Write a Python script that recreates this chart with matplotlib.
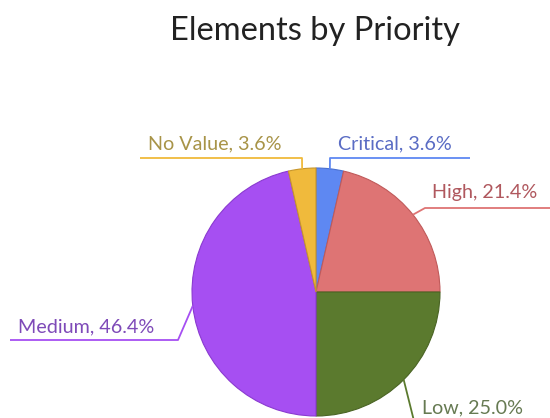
import numpy as np
import matplotlib.pyplot as plt

categories = ['Critical', 'High', 'Low', 'Medium', 'No Value']
counts = [1, 6, 7, 13, 1]
colors = ['#5e88f2', '#de7474', '#5b7a2e', '#a64ff2', '#f0ba3c']
edges = ['#4a70d0', '#c05a5a', '#4a6424', '#8a3ad0', '#c8962a']
text_colors = ['#5a6cc4', '#b0585e', '#667a52', '#7e4ab8', '#a89448']

W, H = 550, 418
cx, cy, r = 316, 292, 124

# leader layout in pixel coords (from top-left): elbow, end of the flat part, text baseline pos
layout = {
    'Critical': ((330, 158), 470, (338, 149)),
    'High': ((425, 208), 550, (432, 198)),
    'Low': ((415, 425), None, (422, 413)),
    'Medium': ((178, 340), 10, (18, 332)),
    'No Value': ((302, 158), 140, (148, 149)),
}

plt.rcParams['font.family'] = ['Lato', 'DejaVu Sans']
fig = plt.figure(figsize=(5.5, 4.18), dpi=100)
ax = fig.add_axes([0, 0, 1, 1])
ax.axis('off')

def py(y):
    return H - y

wedges, _ = ax.pie(counts, colors=colors, center=(cx, py(cy)), radius=r,
                   startangle=90, counterclock=False,
                   wedgeprops=dict(linewidth=0.8))
for w, ec in zip(wedges, edges):
    w.set_edgecolor(ec)
ax.set_xlim(0, W)
ax.set_ylim(0, H)
ax.set_aspect('equal')

total = sum(counts)
for w, cat, col, tc, n in zip(wedges, categories, colors, text_colors, counts):
    ang = np.deg2rad((w.theta1 + w.theta2) / 2)
    ax_x = cx + r * np.cos(ang)
    ax_y = py(cy) + r * np.sin(ang)
    (ex, ey), endx, (tx, ty) = layout[cat]
    xs = [ax_x, ex]
    ys = [ax_y, py(ey)]
    if endx is not None:
        xs.append(endx)
        ys.append(py(ey))
    ax.plot(xs, ys, color=col, lw=1.3, clip_on=False, solid_capstyle='butt')
    pct = 100 * n / total
    ax.text(tx, py(ty), f'{cat}, {pct:.1f}%', color=tc, fontsize=14.2,
            ha='left', va='baseline')

ax.text(315, py(40), 'Elements by Priority', ha='center', va='baseline',
        fontsize=23.5, color='#222222')

fig.savefig('out.png', dpi=100)
